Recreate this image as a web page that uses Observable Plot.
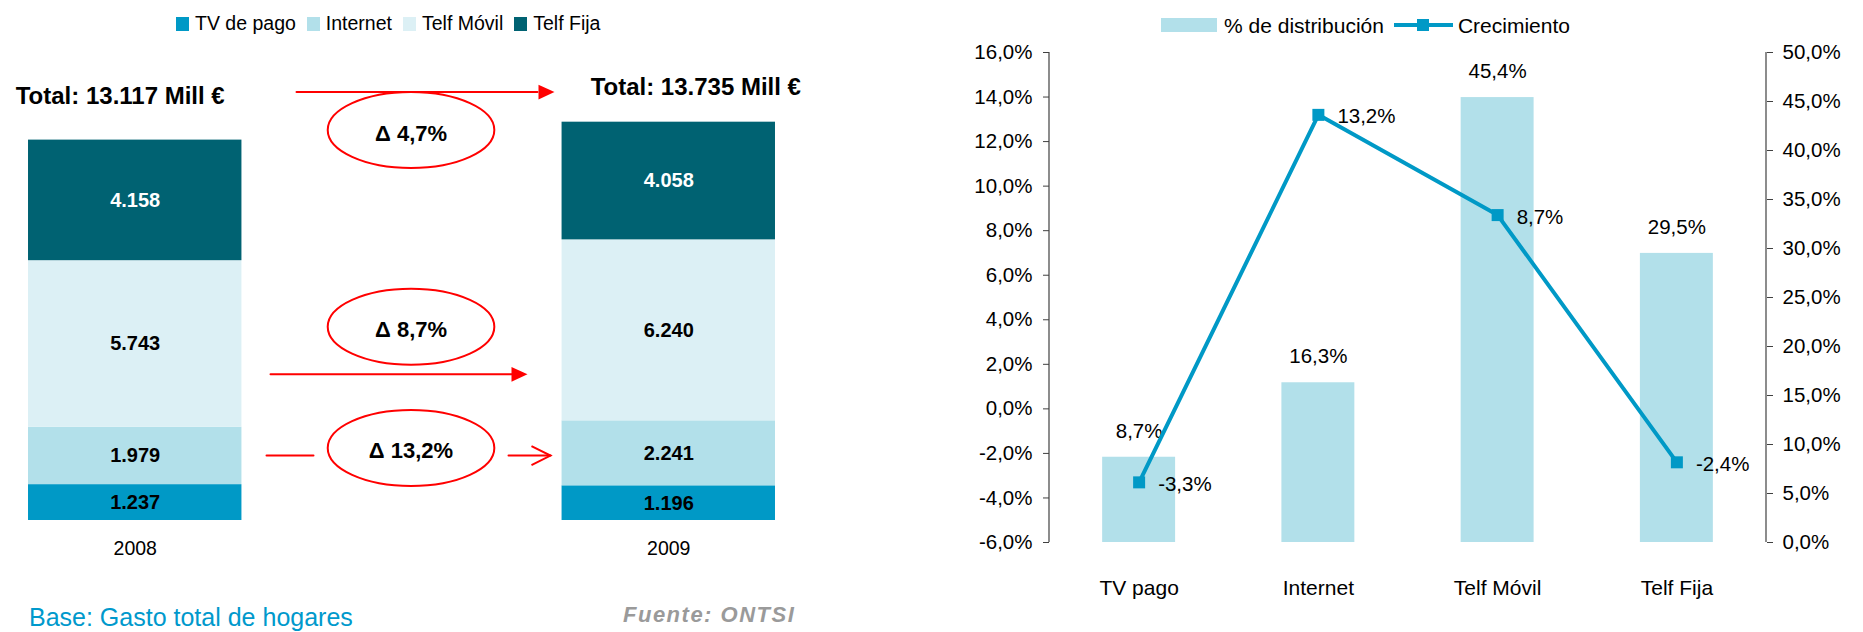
<!DOCTYPE html>
<html>
<head>
<meta charset="utf-8">
<script src="https://cdn.jsdelivr.net/npm/d3@7"></script>
<script src="https://cdn.jsdelivr.net/npm/@observablehq/plot@0.6"></script>
<style>
  html, body { margin: 0; padding: 0; background: #fff; }
  body { width: 1863px; height: 632px; position: relative; overflow: hidden;
         font-family: "Liberation Sans", Arial, sans-serif; color: #000; }
  #left { position: absolute; left: 0; top: 0; width: 900px; }
  #right { position: absolute; left: 900px; top: 0; width: 963px; }
  .legend { position: absolute; display: flex; align-items: center; white-space: nowrap; line-height: 1; }
  #legL { left: 176px; top: 13.8px; font-size: 19.5px; }
  #legL .sw { width: 13px; height: 14px; margin-right: 6px; }
  #legL .item { display: flex; align-items: center; margin-right: 11px; }
  #legR { left: 1161px; top: 14.7px; font-size: 21px; }
  #base { position: absolute; left: 29px; top: 605px; font-size: 25px; line-height: 1; color: #0099CC; white-space: nowrap; }
  #fuente { position: absolute; left: 623px; top: 604px; font-size: 22px; line-height: 1; color: #9a9a9a;
            font-weight: bold; font-style: italic; letter-spacing: 1.5px; white-space: nowrap; }
</style>
</head>
<body>
<div id="left"></div>
<div id="right"></div>
<div id="legL" class="legend"></div>
<div id="legR" class="legend"></div>
<div id="base">Base: Gasto total de hogares</div>
<div id="fuente">Fuente: ONTSI</div>
<script>
// ---------------- DATA ----------------
const years = ["2008", "2009"];
const segments = ["TV de pago", "Internet", "Telf Móvil", "Telf Fija"];
const gasto2008 = [1237, 1979, 5743, 4158];
const gasto2009 = [1196, 2241, 6240, 4058];
const segColors = ["#0099C6", "#B2E0EA", "#DCF0F5", "#006272"];

const services = ["TV pago", "Internet", "Telf Móvil", "Telf Fija"];
const distribucion = [8.7, 16.3, 45.4, 29.5];   // right axis, %
const crecimiento = [-3.3, 13.2, 8.7, -2.4];    // left axis, %
const leftTicks = [-6, -4, -2, 0, 2, 4, 6, 8, 10, 12, 14, 16];
const rightTicks = [0, 5, 10, 15, 20, 25, 30, 35, 40, 45, 50];

// ---------------- HELPERS ----------------
const loc = d3.formatLocale({decimal: ",", thousands: ".", grouping: [3], currency: ["", "€"], minus: "-"});
const fmtInt = loc.format(",d");
const fmt1 = loc.format(".1f");
const fmtPct = v => fmt1(v) + "%";
const RED = "#FF0000";
const FONT = "'Liberation Sans', Arial, sans-serif";

const byYear = [gasto2008, gasto2009];
const stackData = years.flatMap((yr, j) => segments.map((s, i) => ({year: yr, seg: s, value: byYear[j][i]})));
const totals = years.map((yr, j) => ({year: yr, total: d3.sum(byYear[j])}));
const midOf = (arr, k) => d3.sum(arr.slice(0, k)) + arr[k] / 2;
const growthPct = (a, b) => (b / a - 1) * 100;

// custom symbols
const K = 0.5523;
const ellipseSym = {draw(ctx) {
  const rx = 83.3, ry = 38;
  ctx.moveTo(rx, 0);
  ctx.bezierCurveTo(rx, ry * K, rx * K, ry, 0, ry);
  ctx.bezierCurveTo(-rx * K, ry, -rx, ry * K, -rx, 0);
  ctx.bezierCurveTo(-rx, -ry * K, -rx * K, -ry, 0, -ry);
  ctx.bezierCurveTo(rx * K, -ry, rx, -ry * K, rx, 0);
  ctx.closePath();
}};
const triSym = {draw(ctx) { ctx.moveTo(0, 0); ctx.lineTo(-16, -7.3); ctx.lineTo(-16, 7.3); ctx.closePath(); }};
const chevSym = {draw(ctx) { ctx.moveTo(-19, -9.5); ctx.lineTo(0, 0); ctx.lineTo(-19, 9.5); }};

// annotation anchors (data-derived)
const aTotal = {from: "2008", to: "2009", y: totals[0].total,
  label: "Δ " + fmt1(growthPct(totals[0].total, totals[1].total)) + "%"};
const aMovil = {from: "2008", to: "2009", y: midOf(gasto2008, 2),
  label: "Δ " + fmt1(growthPct(gasto2008[2], gasto2009[2])) + "%"};
const aInternet = {from: "2008", to: "2009", y: midOf(gasto2008, 1),
  label: "Δ " + fmt1(growthPct(gasto2008[1], gasto2009[1])) + "%"};

const MIDX = 275.8; // offset from 2008 band centre to middle of the gap

function bubble(d, dyE, dyT) {
  return [
    Plot.dot([d], {x: "from", y: "y", dx: MIDX, dy: dyE, r: 1, symbol: ellipseSym, fill: "none", stroke: RED, strokeWidth: 2}),
    Plot.text([d], {x: "from", y: "y", dx: MIDX, dy: dyT, text: "label", fontSize: 22, fontWeight: "bold", fill: "#000"})
  ];
}
function shaft(d, dy, insetStart, insetEnd) {
  return Plot.arrow([d], {x1: "from", x2: "to", y1: "y", y2: "y", dy, insetStart, insetEnd, headLength: 0, stroke: RED, strokeWidth: 2});
}

// ---------------- LEFT CHART ----------------
const left = Plot.plot({
  width: 900, height: 632,
  marginLeft: 0, marginRight: 97, marginTop: 114, marginBottom: 112,
  style: {fontFamily: FONT, fontSize: "20px", background: "transparent", overflow: "visible"},
  x: {domain: years, paddingInner: 0.6, paddingOuter: 0.0525, round: false, label: null},
  y: {domain: [0, 14000], axis: null},
  color: {domain: segments, range: segColors},
  marks: [
    Plot.barY(stackData, {x: "year", y: "value", fill: "seg"}),
    Plot.text(stackData, Plot.stackY({x: "year", y: "value", z: "seg",
      text: d => d.seg === "Telf Fija" ? null : fmtInt(d.value), fill: "#000", fontWeight: "bold", fontSize: 20})),
    Plot.text(stackData, Plot.stackY({x: "year", y: "value", z: "seg",
      text: d => d.seg === "Telf Fija" ? fmtInt(d.value) : null, fill: "#fff", fontWeight: "bold", fontSize: 20})),
    Plot.axisX({tickSize: 0, tickPadding: 21, fontSize: 19.5, label: null}),
    Plot.text([totals[0]], {x: "year", y: "total", text: d => `Total: ${fmtInt(d.total)} Mill €`, dx: -15, dy: -44, fontSize: 24, fontWeight: "bold"}),
    Plot.text([totals[1]], {x: "year", y: "total", text: d => `Total: ${fmtInt(d.total)} Mill €`, dx: 27, dy: -35, fontSize: 24, fontWeight: "bold"}),
    // Δ total
    shaft(aTotal, -48, 161.3, 131.3),
    Plot.dot([aTotal], {x: "to", y: "y", dx: -114.3, dy: -48, r: 1, symbol: triSym, fill: RED, stroke: "none"}),
    ...bubble(aTotal, -10.1, -6.2),
    // Δ móvil
    shaft(aMovil, 30.4, 135.3, 155.3),
    Plot.dot([aMovil], {x: "to", y: "y", dx: -141.3, dy: 30.4, r: 1, symbol: triSym, fill: RED, stroke: "none"}),
    ...bubble(aMovil, -17.2, -14.5),
    // Δ internet
    shaft(aInternet, -0.4, 131.3, 355.3),
    shaft(aInternet, -0.4, 373.3, 118.3),
    Plot.dot([aInternet], {x: "to", y: "y", dx: -118.3, dy: -0.4, r: 1, symbol: chevSym, fill: "none", stroke: RED, strokeWidth: 2}),
    ...bubble(aInternet, -7.9, -4.9)
  ]
});
document.getElementById("left").append(left);

// ---------------- RIGHT CHART ----------------
const y2 = d3.scaleLinear([0, 50], [-6, 16]); // right axis -> left axis units
const rows = services.map((s, i) => ({s, dist: distribucion[i], g: crecimiento[i]}));
const AX = "#404040";

const right = Plot.plot({
  width: 963, height: 632,
  marginLeft: 149, marginRight: 97, marginTop: 52, marginBottom: 90,
  style: {fontFamily: FONT, fontSize: "20px", background: "transparent", overflow: "visible"},
  x: {domain: services, paddingInner: 0.593, paddingOuter: 0.2965, round: false, label: null},
  y: {domain: [-6, 16], label: null},
  marks: [
    Plot.barY(rows, {x: "s", y1: -6, y2: d => y2(d.dist), fill: "#B2E0EA"}),
    Plot.text(rows, {x: "s", y: d => y2(d.dist), text: d => fmtPct(d.dist), dy: -26, fontSize: 20.5, fill: "#000"}),
    Plot.axisY({anchor: "left", ticks: leftTicks, tickFormat: fmtPct, tickSize: 6, tickPadding: 11,
      fontSize: 20.5, stroke: AX, fill: "#000", label: null}),
    Plot.axisY({anchor: "right", ticks: rightTicks.map(v => y2(v)), tickFormat: t => fmtPct(y2.invert(t)),
      tickSize: 6, tickPadding: 10, fontSize: 20.5, stroke: AX, fill: "#000", label: null}),
    Plot.axisX({tickSize: 0, tickPadding: 38, fontSize: 21, label: null}),
    Plot.line(rows, {x: "s", y: "g", stroke: "#0099C6", strokeWidth: 4}),
    Plot.dot(rows, {x: "s", y: "g", symbol: "square", r: 6.77, fill: "#0099C6", stroke: "none"}),
    Plot.text(rows, {x: "s", y: "g", text: d => fmtPct(d.g), textAnchor: "start", dx: 19, dy: 2, fontSize: 20.5, fill: "#000"})
  ]
});
// axis lines at both edges of the frame, taken from the plot's own scales
{
  const xr = right.scale("x").range, yr = right.scale("y").range;
  const g = d3.select(right).append("g").attr("stroke", AX).attr("stroke-width", 1.2);
  for (const xv of [d3.min(xr), d3.max(xr)]) {
    g.append("line").attr("x1", xv).attr("x2", xv).attr("y1", yr[0]).attr("y2", yr[1]);
  }
}
document.getElementById("right").append(right);

// ---------------- LEGENDS ----------------
const legL = document.getElementById("legL");
segments.forEach((s, i) => {
  const item = document.createElement("div");
  item.className = "item";
  const sw = document.createElement("span");
  sw.className = "sw";
  sw.style.background = segColors[i];
  const tx = document.createElement("span");
  tx.textContent = s;
  item.append(sw, tx);
  legL.append(item);
});

const legR = document.getElementById("legR");
legR.innerHTML =
  `<span style="display:inline-block;width:56px;height:14px;background:#B2E0EA;margin-right:7px"></span>` +
  `<span>% de distribución</span>` +
  `<svg width="59" height="14" style="margin:0 5px 0 10px;overflow:visible">` +
  `<line x1="0" x2="59" y1="7" y2="7" stroke="#0099C6" stroke-width="4"/>` +
  `<rect x="23" y="1" width="12" height="12" fill="#0099C6"/></svg>` +
  `<span>Crecimiento</span>`;
</script>
</body>
</html>
